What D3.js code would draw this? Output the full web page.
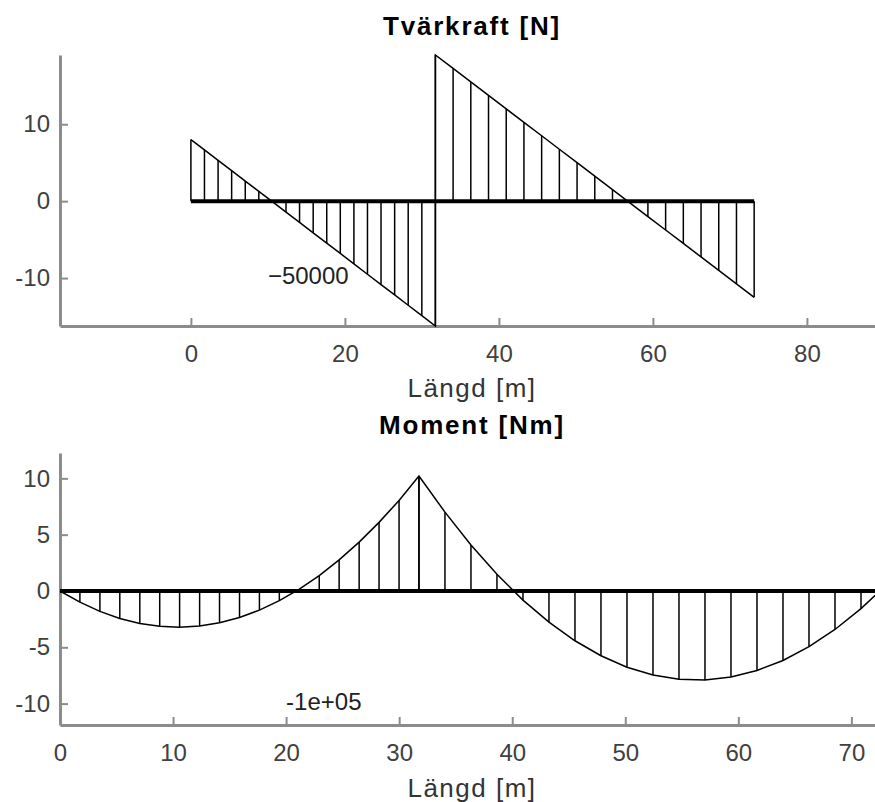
<!DOCTYPE html>
<html>
<head>
<meta charset="utf-8">
<style>
  body { margin: 0; background: #fff; }
  svg text { font-family: "Liberation Sans", Arial, sans-serif; }
  .axis path { stroke: #8c8c8c; stroke-width: 3; }
  .axis line { stroke: #8c8c8c; stroke-width: 2; }
  .axis text { fill: #404040; font-size: 24px; font-family: "Liberation Sans", Arial, sans-serif; }
  .title { font-weight: bold; font-size: 26px; letter-spacing: 1.8px; fill: #000; }
  .xlabel { font-size: 26px; letter-spacing: 1.5px; fill: #333; }
  .note { font-size: 24px; fill: #222; }
</style>
<script src="https://d3js.org/d3.v7.min.js"></script>
</head>
<body>

<svg id="beam" width="875" height="802"></svg>

<script>
// positions along the beam (two segments, meeting at the support)
const beamX1 = [0, 1.76, 3.53, 5.29, 7.06, 8.82, 10.58, 12.35, 14.11, 15.88, 17.64, 19.40, 21.17, 22.93, 24.69, 26.46, 28.22, 29.99, 31.75];
const beamX2 = [31.75, 34.05, 36.35, 38.65, 40.95, 43.25, 45.55, 47.85, 50.15, 52.45, 54.75, 57.05, 59.35, 61.65, 63.95, 66.25, 68.55, 70.85, 73.15];

// shear force (scaled)
const shear1 = [8.00, 6.66, 5.31, 3.96, 2.61, 1.27, -0.07, -1.42, -2.77, -4.12, -5.46, -6.80, -8.15, -9.50, -10.84, -12.19, -13.53, -14.88, -16.23];
const shear2 = [19.00, 17.25, 15.50, 13.75, 12.00, 10.25, 8.50, 6.75, 5.00, 3.25, 1.50, -0.25, -2.00, -3.75, -5.50, -7.25, -9.00, -10.75, -12.50];

// bending moment (scaled)
const moment1 = [0, -0.99, -1.81, -2.44, -2.88, -3.14, -3.22, -3.11, -2.83, -2.35, -1.70, -0.86, 0.17, 1.37, 2.76, 4.34, 6.09, 8.04, 10.2];
const moment2 = [10.2, 7.00, 4.08, 1.48, -0.81, -2.77, -4.42, -5.75, -6.77, -7.46, -7.84, -7.90, -7.64, -7.06, -6.17, -4.95, -3.42, -1.57, 0.60];

// axes
const shearXDomain = [-17, 90.4];
const shearYDomain = [-16.23, 19];
const shearXTicks = [0, 20, 40, 60, 80];
const shearYTicks = [-10, 0, 10];

const momentXDomain = [0, 73.15];
const momentYDomain = [-11.9, 12.25];
const momentXTicks = [0, 10, 20, 30, 40, 50, 60, 70];
const momentYTicks = [-10, -5, 0, 5, 10];

// texts
const shearTitle = "Tvärkraft [N]";
const momentTitle = "Moment [Nm]";
const xTitle = "Längd [m]";
const shearNote = {x: 10, y: -10, text: "\u221250000"};
const momentNote = {x: 20, y: -10, text: "-1e+05"};

const svg = d3.select("svg#beam");

function drawPanel(p) {
  const xScale = d3.scaleLinear().domain(p.xDomain).range([60, 887]);
  const yScale = d3.scaleLinear().domain(p.yDomain).range([p.bottom, p.top]);

  let g = svg.append("g");

  // axes, ticks pointing inwards
  let bottomAxis = d3.axisBottom(xScale)
                     .tickValues(p.xTicks)
                     .tickSizeInner(-8)
                     .tickSizeOuter(0)
                     .tickPadding(19)
                     .tickFormat(d3.format("d"));
  g.append("g")
    .attr("class", "axis")
    .attr("transform", "translate(0," + p.bottom + ")")
    .call(bottomAxis);

  let leftAxis = d3.axisLeft(yScale)
                   .tickValues(p.yTicks)
                   .tickSizeInner(-8)
                   .tickSizeOuter(0)
                   .tickPadding(10)
                   .tickFormat(d => d < 0 ? "-" + Math.abs(d) : String(d));
  g.append("g")
    .attr("class", "axis")
    .attr("transform", "translate(60,0)")
    .call(leftAxis);

  const pts1 = p.x1.map((x, i) => [x, p.v1[i]]);
  const pts2 = p.x2.map((x, i) => [x, p.v2[i]]);
  const pts = pts1.concat(pts2);

  // hatching
  g.append("g").selectAll("line")
    .data(pts)
    .join("line")
    .attr("x1", d => xScale(d[0]))
    .attr("x2", d => xScale(d[0]))
    .attr("y1", yScale(0))
    .attr("y2", d => yScale(d[1]))
    .attr("stroke", "#000")
    .attr("stroke-width", 1.5);

  // outline
  let line = d3.line().x(d => xScale(d[0])).y(d => yScale(d[1]));
  g.append("path")
    .attr("d", line(pts))
    .attr("fill", "none")
    .attr("stroke", "#000")
    .attr("stroke-width", 1.5);

  // beam / zero line
  g.append("line")
    .attr("x1", xScale(p.x1[0]))
    .attr("x2", xScale(p.x2[p.x2.length - 1]))
    .attr("y1", yScale(0))
    .attr("y2", yScale(0))
    .attr("stroke", "#000")
    .attr("stroke-width", 4);

  g.append("text")
    .attr("class", "note")
    .attr("x", xScale(p.note.x))
    .attr("y", yScale(p.note.y))
    .attr("dominant-baseline", "middle")
    .text(p.note.text);

  g.append("text")
    .attr("class", "title")
    .attr("x", 472)
    .attr("y", p.titleY)
    .attr("text-anchor", "middle")
    .text(p.title);

  g.append("text")
    .attr("class", "xlabel")
    .attr("x", 472)
    .attr("y", p.labelY)
    .attr("text-anchor", "middle")
    .text(xTitle);
}

drawPanel({
  xDomain: shearXDomain, yDomain: shearYDomain,
  xTicks: shearXTicks, yTicks: shearYTicks,
  x1: beamX1, x2: beamX2, v1: shear1, v2: shear2,
  note: shearNote, title: shearTitle,
  top: 55, bottom: 326, titleY: 35, labelY: 397
});

drawPanel({
  xDomain: momentXDomain, yDomain: momentYDomain,
  xTicks: momentXTicks, yTicks: momentYTicks,
  x1: beamX1, x2: beamX2, v1: moment1, v2: moment2,
  note: momentNote, title: momentTitle,
  top: 453, bottom: 725, titleY: 434, labelY: 797
});
</script>
</body>
</html>
